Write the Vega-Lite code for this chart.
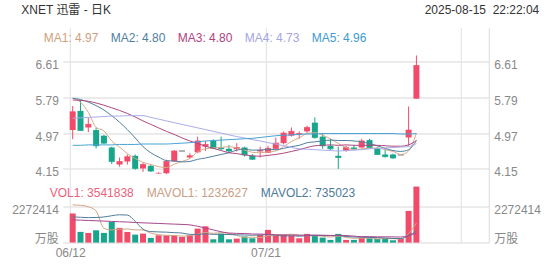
{
  "$schema": "https://vega.github.io/schema/vega-lite/v6.json",
  "padding": {"left": 10.8, "top": 2.6, "right": 6, "bottom": 4},
  "background": "white",
  "spacing": 0,
  "bounds": "flush",
  "config": {
    "view": {"stroke": null},
    "font": "Liberation Sans, Noto Sans CJK SC, sans-serif",
    "axis": {
      "labelFont": "Liberation Sans, Noto Sans CJK SC, sans-serif",
      "labelFontSize": 12,
      "labelColor": "#888888",
      "ticks": false,
      "domain": false,
      "gridColor": "#e4e4e4",
      "titleFont": "Liberation Sans, Noto Sans CJK SC, sans-serif",
      "titleFontWeight": "normal",
      "titleFontSize": 12,
      "titleColor": "#333333"
    },
    "legend": {
      "labelFont": "Liberation Sans, sans-serif",
      "labelFontSize": 12
    }
  },
  "datasets": {
    "k": [
      {"i":0,"o":5.04,"h":5.59,"l":4.83,"c":5.46,"t":"up","vt":"up","v":1834000,"MA1":5.77,"MA2":5.77,"MA3":5.73,"MA4":5.31,"MA5":4.69,"MV1":2384000,"MV2":1620000,"MV3":1440000},
      {"i":1,"o":5.48,"h":5.73,"l":5.02,"c":5.03,"t":"down","vt":"down","v":677000,"MA1":5.68,"MA2":5.74,"MA3":5.72,"MA4":5.32,"MA5":4.69,"MV1":2360000,"MV2":1600000,"MV3":1420000},
      {"i":2,"o":5.10,"h":5.33,"l":4.99,"c":5.17,"t":"up","vt":"up","v":613000,"MA1":5.45,"MA2":5.68,"MA3":5.70,"MA4":5.33,"MA5":4.70,"MV1":2270000,"MV2":1580000,"MV3":1400000},
      {"i":3,"o":5.04,"h":5.10,"l":4.62,"c":4.68,"t":"down","vt":"down","v":778000,"MA1":5.10,"MA2":5.60,"MA3":5.66,"MA4":5.34,"MA5":4.70,"MV1":2000000,"MV2":1590000,"MV3":1380000},
      {"i":4,"o":4.91,"h":4.93,"l":4.72,"c":4.74,"t":"down","vt":"down","v":613000,"MA1":5.02,"MA2":5.50,"MA3":5.61,"MA4":5.35,"MA5":4.70,"MV1":903000,"MV2":1620000,"MV3":1360000},
      {"i":5,"o":4.64,"h":4.66,"l":4.26,"c":4.32,"t":"down","vt":"down","v":1309000,"MA1":4.79,"MA2":5.37,"MA3":5.55,"MA4":5.36,"MA5":4.70,"MV1":798000,"MV2":1700000,"MV3":1340000},
      {"i":6,"o":4.25,"h":4.41,"l":4.20,"c":4.32,"t":"up","vt":"up","v":930000,"MA1":4.65,"MA2":5.22,"MA3":5.49,"MA4":5.36,"MA5":4.71,"MV1":849000,"MV2":1760000,"MV3":1320000},
      {"i":7,"o":4.32,"h":4.48,"l":4.25,"c":4.43,"t":"up","vt":"up","v":677000,"MA1":4.50,"MA2":5.05,"MA3":5.42,"MA4":5.37,"MA5":4.71,"MV1":861000,"MV2":1740000,"MV3":1300000},
      {"i":8,"o":4.45,"h":4.48,"l":4.13,"c":4.16,"t":"down","vt":"down","v":506000,"MA1":4.39,"MA2":4.86,"MA3":5.34,"MA4":5.37,"MA5":4.71,"MV1":807000,"MV2":1350000,"MV3":1270000},
      {"i":9,"o":4.16,"h":4.29,"l":4.08,"c":4.25,"t":"up","vt":"up","v":569000,"MA1":4.30,"MA2":4.66,"MA3":5.25,"MA4":5.37,"MA5":4.72,"MV1":798000,"MV2":851000,"MV3":1250000},
      {"i":10,"o":4.22,"h":4.25,"l":4.08,"c":4.10,"t":"down","vt":"down","v":297000,"MA1":4.25,"MA2":4.52,"MA3":5.17,"MA4":5.33,"MA5":4.72,"MV1":596000,"MV2":697000,"MV3":1230000},
      {"i":11,"o":4.05,"h":4.07,"l":4.04,"c":4.05,"t":"up","vt":"up","v":462000,"MA1":4.20,"MA2":4.42,"MA3":5.09,"MA4":5.29,"MA5":4.72,"MV1":502000,"MV2":675000,"MV3":1210000},
      {"i":12,"o":4.05,"h":4.36,"l":4.03,"c":4.32,"t":"up","vt":"up","v":462000,"MA1":4.18,"MA2":4.34,"MA3":5.01,"MA4":5.25,"MA5":4.72,"MV1":459000,"MV2":660000,"MV3":1190000},
      {"i":13,"o":4.32,"h":4.58,"l":4.31,"c":4.56,"t":"up","vt":"up","v":462000,"MA1":4.26,"MA2":4.33,"MA3":4.94,"MA4":5.21,"MA5":4.73,"MV1":450000,"MV2":629000,"MV3":1170000},
      {"i":14,"o":4.56,"h":4.56,"l":4.56,"c":4.56,"t":"flat","vt":"up","v":360000,"MA1":4.32,"MA2":4.31,"MA3":4.86,"MA4":5.17,"MA5":4.74,"MV1":409000,"MV2":603000,"MV3":1150000},
      {"i":15,"o":4.41,"h":4.51,"l":4.39,"c":4.45,"t":"up","vt":"up","v":462000,"MA1":4.39,"MA2":4.32,"MA3":4.79,"MA4":5.13,"MA5":4.75,"MV1":442000,"MV2":519000,"MV3":1120000},
      {"i":16,"o":4.53,"h":4.89,"l":4.51,"c":4.79,"t":"up","vt":"up","v":885000,"MA1":4.54,"MA2":4.37,"MA3":4.73,"MA4":5.09,"MA5":4.77,"MV1":526000,"MV2":514000,"MV3":1030000},
      {"i":17,"o":4.66,"h":4.79,"l":4.56,"c":4.71,"t":"up","vt":"up","v":1031000,"MA1":4.61,"MA2":4.40,"MA3":4.67,"MA4":5.05,"MA5":4.79,"MV1":640000,"MV2":550000,"MV3":920000},
      {"i":18,"o":4.79,"h":4.83,"l":4.61,"c":4.62,"t":"down","vt":"down","v":209000,"MA1":4.63,"MA2":4.44,"MA3":4.62,"MA4":5.01,"MA5":4.80,"MV1":589000,"MV2":520000,"MV3":800000},
      {"i":19,"o":4.64,"h":4.89,"l":4.58,"c":4.61,"t":"down","vt":"down","v":569000,"MA1":4.64,"MA2":4.48,"MA3":4.57,"MA4":4.97,"MA5":4.81,"MV1":631000,"MV2":520000,"MV3":685000},
      {"i":20,"o":4.61,"h":4.70,"l":4.51,"c":4.56,"t":"down","vt":"down","v":209000,"MA1":4.66,"MA2":4.52,"MA3":4.52,"MA4":4.93,"MA5":4.82,"MV1":581000,"MV2":511000,"MV3":604000},
      {"i":21,"o":4.60,"h":4.74,"l":4.55,"c":4.64,"t":"up","vt":"up","v":253000,"MA1":4.63,"MA2":4.58,"MA3":4.50,"MA4":4.89,"MA5":4.83,"MV1":454000,"MV2":490000,"MV3":583000},
      {"i":22,"o":4.64,"h":4.66,"l":4.43,"c":4.47,"t":"down","vt":"down","v":390000,"MA1":4.58,"MA2":4.60,"MA3":4.47,"MA4":4.86,"MA5":4.84,"MV1":326000,"MV2":483000,"MV3":572000},
      {"i":23,"o":4.45,"h":4.49,"l":4.36,"c":4.37,"t":"down","vt":"down","v":272000,"MA1":4.53,"MA2":4.58,"MA3":4.45,"MA4":4.82,"MA5":4.85,"MV1":339000,"MV2":464000,"MV3":546000},
      {"i":24,"o":4.55,"h":4.66,"l":4.41,"c":4.58,"t":"up","vt":"up","v":487000,"MA1":4.52,"MA2":4.58,"MA3":4.44,"MA4":4.79,"MA5":4.87,"MV1":322000,"MV2":477000,"MV3":540000},
      {"i":25,"o":4.52,"h":4.68,"l":4.51,"c":4.62,"t":"up","vt":"up","v":803000,"MA1":4.54,"MA2":4.60,"MA3":4.46,"MA4":4.75,"MA5":4.89,"MV1":441000,"MV2":511000,"MV3":515000},
      {"i":26,"o":4.61,"h":4.87,"l":4.58,"c":4.74,"t":"up","vt":"up","v":443000,"MA1":4.56,"MA2":4.59,"MA3":4.48,"MA4":4.72,"MA5":4.91,"MV1":479000,"MV2":467000,"MV3":490000},
      {"i":27,"o":4.74,"h":5.01,"l":4.71,"c":4.97,"t":"up","vt":"up","v":487000,"MA1":4.66,"MA2":4.62,"MA3":4.51,"MA4":4.68,"MA5":4.92,"MV1":498000,"MV2":412000,"MV3":481000},
      {"i":28,"o":4.91,"h":5.10,"l":4.89,"c":5.01,"t":"up","vt":"up","v":424000,"MA1":4.78,"MA2":4.66,"MA3":4.55,"MA4":4.64,"MA5":4.93,"MV1":529000,"MV2":434000,"MV3":477000},
      {"i":29,"o":4.94,"h":5.01,"l":4.84,"c":4.96,"t":"up","vt":"up","v":272000,"MA1":4.86,"MA2":4.69,"MA3":4.59,"MA4":4.61,"MA5":4.94,"MV1":486000,"MV2":404000,"MV3":462000},
      {"i":30,"o":5.01,"h":5.14,"l":4.97,"c":5.10,"t":"up","vt":"up","v":550000,"MA1":4.96,"MA2":4.75,"MA3":4.64,"MA4":4.60,"MA5":4.95,"MV1":435000,"MV2":438000,"MV3":475000},
      {"i":31,"o":5.21,"h":5.33,"l":4.84,"c":4.87,"t":"down","vt":"down","v":443000,"MA1":4.98,"MA2":4.77,"MA3":4.68,"MA4":4.59,"MA5":4.95,"MV1":435000,"MV2":457000,"MV3":474000},
      {"i":32,"o":4.89,"h":4.97,"l":4.61,"c":4.68,"t":"down","vt":"down","v":316000,"MA1":4.92,"MA2":4.79,"MA3":4.69,"MA4":4.58,"MA5":4.96,"MV1":401000,"MV2":450000,"MV3":466000},
      {"i":33,"o":4.68,"h":4.84,"l":4.58,"c":4.61,"t":"down","vt":"down","v":171000,"MA1":4.84,"MA2":4.81,"MA3":4.70,"MA4":4.57,"MA5":4.96,"MV1":350000,"MV2":440000,"MV3":452000},
      {"i":34,"o":4.45,"h":4.66,"l":4.15,"c":4.41,"t":"down","vt":"down","v":550000,"MA1":4.73,"MA2":4.80,"MA3":4.69,"MA4":4.56,"MA5":4.96,"MV1":406000,"MV2":446000,"MV3":461000},
      {"i":35,"o":4.56,"h":4.68,"l":4.54,"c":4.64,"t":"up","vt":"up","v":171000,"MA1":4.64,"MA2":4.80,"MA3":4.70,"MA4":4.57,"MA5":4.96,"MV1":330000,"MV2":383000,"MV3":447000},
      {"i":36,"o":4.64,"h":4.70,"l":4.58,"c":4.61,"t":"down","vt":"down","v":171000,"MA1":4.59,"MA2":4.79,"MA3":4.69,"MA4":4.58,"MA5":4.96,"MV1":276000,"MV2":356000,"MV3":411000},
      {"i":37,"o":4.64,"h":4.84,"l":4.62,"c":4.79,"t":"up","vt":"up","v":316000,"MA1":4.61,"MA2":4.77,"MA3":4.69,"MA4":4.59,"MA5":4.96,"MV1":276000,"MV2":338000,"MV3":375000},
      {"i":38,"o":4.81,"h":4.84,"l":4.62,"c":4.64,"t":"down","vt":"down","v":272000,"MA1":4.62,"MA2":4.73,"MA3":4.69,"MA4":4.61,"MA5":4.96,"MV1":296000,"MV2":323000,"MV3":378000},
      {"i":39,"o":4.61,"h":4.66,"l":4.47,"c":4.48,"t":"down","vt":"down","v":234000,"MA1":4.63,"MA2":4.68,"MA3":4.69,"MA4":4.62,"MA5":4.96,"MV1":233000,"MV2":319000,"MV3":362000},
      {"i":40,"o":4.48,"h":4.62,"l":4.41,"c":4.43,"t":"down","vt":"down","v":272000,"MA1":4.59,"MA2":4.62,"MA3":4.68,"MA4":4.63,"MA5":4.96,"MV1":253000,"MV2":292000,"MV3":365000},
      {"i":41,"o":4.48,"h":4.50,"l":4.38,"c":4.40,"t":"down","vt":"down","v":145000,"MA1":4.55,"MA2":4.57,"MA3":4.67,"MA4":4.64,"MA5":4.96,"MV1":248000,"MV2":262000,"MV3":359000},
      {"i":42,"o":4.47,"h":4.47,"l":4.47,"c":4.47,"t":"flat","vt":"up","v":234000,"MA1":4.48,"MA2":4.55,"MA3":4.67,"MA4":4.65,"MA5":4.95,"MV1":231000,"MV2":254000,"MV3":352000},
      {"i":43,"o":4.87,"h":5.58,"l":4.68,"c":5.04,"t":"up","vt":"up","v":2005000,"MA1":4.56,"MA2":4.59,"MA3":4.70,"MA4":4.66,"MA5":4.95,"MV1":578000,"MV2":437000,"MV3":438000},
      {"i":44,"o":5.76,"h":6.75,"l":5.76,"c":6.52,"t":"up","vt":"up","v":3541838,"MA1":4.97,"MA2":4.80,"MA3":4.80,"MA4":4.73,"MA5":4.96,"MV1":1232627,"MV2":735023,"MV3":591000}
    ]
  },
  "vconcat": [
    {
      "width": 426,
      "height": 149,
      "data": {"name": "k"},
      "encoding": {
        "x": {
          "field": "i", "type": "quantitative",
          "scale": {"domain": [-0.625, 52.625], "nice": false, "zero": false},
          "axis": {"values": [0, 25, 50], "grid": true, "labels": false, "ticks": false, "domain": false, "title": null, "tickOffset": -2.5, "gridColor": "#e0e0e0", "gridWidth": 1}
        }
      },
      "layer": [
        {
          "mark": {"type": "rule", "strokeWidth": 1},
          "encoding": {
            "y": {
              "field": "l", "type": "quantitative",
              "scale": {"domain": [3.973, 7.389], "nice": false, "zero": false},
              "axis": {"orient": "left", "values": [4.15, 4.97, 5.79, 6.61], "format": ".2f", "grid": true, "gridWidth": 1.5, "labelPadding": 4.5, "labelOffset": 3, "title": "XNET 迅雷 - 日K", "titleAngle": 0, "titleAlign": "left", "titleBaseline": "top", "titleX": -42, "titleY": -23.4}
            },
            "y2": {"field": "h"},
            "color": {"field": "t", "type": "nominal", "scale": {"domain": ["up", "down", "flat"], "range": ["#f24b6a", "#17a68c", "#222222"]}, "legend": null}
          }
        },
        {
          "mark": {"type": "bar", "width": 6},
          "encoding": {
            "y": {"field": "o", "type": "quantitative", "axis": null},
            "y2": {"field": "c"},
            "color": {"field": "t", "type": "nominal", "legend": null}
          }
        },
        {
          "mark": {"type": "tick", "orient": "horizontal", "size": 6, "thickness": 1},
          "encoding": {
            "y": {"field": "c", "type": "quantitative", "axis": null},
            "color": {"field": "t", "type": "nominal", "legend": null}
          }
        },
        {
          "transform": [{"fold": ["MA1", "MA2", "MA3", "MA4", "MA5"], "as": ["s", "val"]}],
          "mark": {"type": "line", "strokeWidth": 1, "interpolate": "monotone"},
          "encoding": {
            "y": {
              "field": "val", "type": "quantitative",
              "axis": {"orient": "right", "values": [4.15, 4.97, 5.79, 6.61], "format": ".2f", "grid": false, "domain": true, "domainColor": "#dcdcdc", "labelPadding": 5, "labelOffset": 3, "title": "2025-08-15\u00a0 22:22:04", "titleAngle": 0, "titleAlign": "right", "titleBaseline": "top", "titleX": 50, "titleY": -23.4}
            },
            "stroke": {
              "field": "s", "type": "nominal",
              "scale": {"domain": ["MA1", "MA2", "MA3", "MA4", "MA5"], "range": ["#d9a987", "#4e7fa0", "#b14680", "#a9ace8", "#47a3d3"]},
              "legend": {
                "orient": "none", "legendX": -31, "legendY": 4, "direction": "horizontal", "title": null,
                "symbolSize": 1, "symbolStrokeWidth": 0, "symbolOpacity": 0, "labelOffset": 0, "columnPadding": -2, "padding": 0,
                "labelExpr": "datum.value == 'MA1' ? 'MA1: 4.97' : datum.value == 'MA2' ? 'MA2: 4.80' : datum.value == 'MA3' ? 'MA3: 4.80' : datum.value == 'MA4' ? 'MA4: 4.73' : 'MA5: 4.96'",
                "labelColor": {"expr": "datum.value == 'MA1' ? '#cf9f7c' : datum.value == 'MA2' ? '#4f7fa0' : datum.value == 'MA3' ? '#b2437f' : datum.value == 'MA4' ? '#a2a6e4' : '#3e9bd0'"}
              }
            }
          }
        }
      ],
      "resolve": {"axis": {"y": "independent"}}
    },
    {
      "width": 426,
      "height": 66,
      "data": {"name": "k"},
      "encoding": {
        "x": {
          "field": "i", "type": "quantitative",
          "scale": {"domain": [-0.625, 52.625], "nice": false, "zero": false},
          "axis": {"values": [0, 25, 50], "labelExpr": "datum.value == 0 ? '06/12' : datum.value == 25 ? '07/21' : ''", "grid": true, "ticks": false, "domain": false, "title": null, "tickOffset": -2.5, "labelFlush": 5, "labelPadding": 5, "gridColor": "#e0e0e0", "gridWidth": 1}
        }
      },
      "layer": [
        {
          "mark": {"type": "bar", "width": 6},
          "encoding": {
            "y": {
              "field": "v", "type": "quantitative",
              "scale": {"domain": [0, 4174309], "nice": false, "zero": true},
              "axis": {"orient": "left", "values": [0, 2272414], "labelExpr": "datum.value == 0 ? '万股' : '2272414'", "grid": true, "gridWidth": 1.5, "labelPadding": 4.5, "labelOffset": {"condition": {"test": "datum.value == 0", "value": -4}, "value": 3}, "title": null}
            },
            "color": {"field": "vt", "type": "nominal", "scale": {"domain": ["up", "down", "flat"], "range": ["#f24b6a", "#17a68c", "#222222"]}, "legend": null}
          }
        },
        {
          "transform": [{"fold": ["MV1", "MV2", "MV3"], "as": ["s", "val"]}],
          "mark": {"type": "line", "strokeWidth": 1, "interpolate": "monotone"},
          "encoding": {
            "y": {
              "field": "val", "type": "quantitative",
              "axis": {"orient": "right", "values": [0, 2272414], "labelExpr": "datum.value == 0 ? '万股' : '2272414'", "grid": false, "domain": true, "domainColor": "#dcdcdc", "labelPadding": 5, "labelOffset": {"condition": {"test": "datum.value == 0", "value": -4}, "value": 3}, "title": null}
            },
            "stroke": {
              "field": "s", "type": "nominal",
              "scale": {"domain": ["VOL1", "MV1", "MV2", "MV3"], "range": ["#f24b6a", "#d0a585", "#4e7b98", "#a7468f"]},
              "legend": {
                "orient": "none", "legendX": -25, "legendY": 10, "direction": "horizontal", "title": null,
                "values": ["VOL1", "MV1", "MV2"],
                "symbolSize": 1, "symbolStrokeWidth": 0, "symbolOpacity": 0, "labelOffset": 0, "columnPadding": -2, "padding": 0,
                "labelExpr": "datum.value == 'VOL1' ? 'VOL1: 3541838' : datum.value == 'MV1' ? 'MAVOL1: 1232627' : 'MAVOL2: 735023'",
                "labelColor": {"expr": "datum.value == 'VOL1' ? '#ec5f7c' : datum.value == 'MV1' ? '#c9a084' : '#4e7b98'"}
              }
            }
          }
        }
      ],
      "resolve": {"axis": {"y": "independent"}}
    }
  ],
  "resolve": {
    "scale": {"x": "independent", "y": "independent", "stroke": "independent", "color": "shared"},
    "legend": {"stroke": "independent"}
  }
}
